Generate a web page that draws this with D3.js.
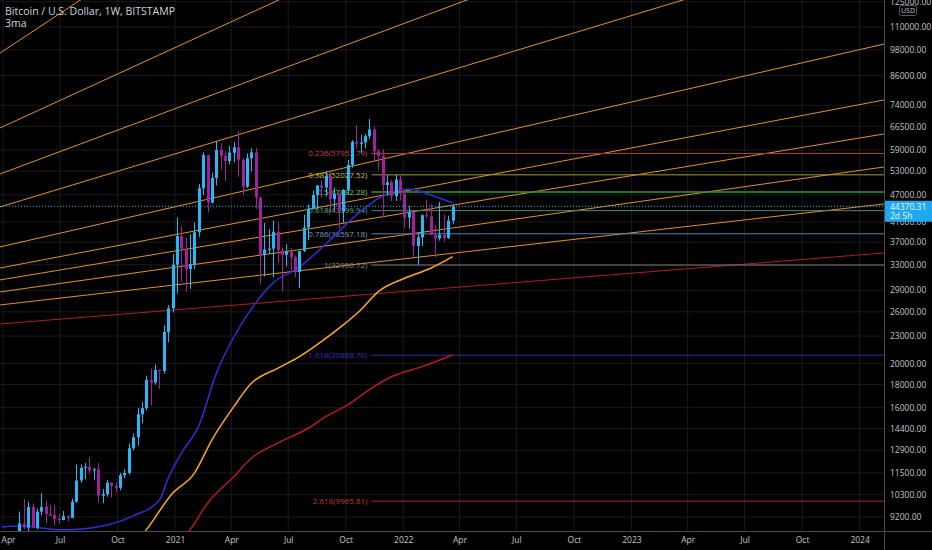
<!DOCTYPE html>
<html>
<head>
<meta charset="utf-8">
<script src="https://cdnjs.cloudflare.com/ajax/libs/d3/7.8.5/d3.min.js"></script>
<style>
  html, body { margin: 0; padding: 0; background: #000; }
  svg { display: block; font-family: "Open Sans", "Noto Sans", sans-serif; }
</style>
</head>
<body>
<div id="chart"></div>
<script>
// Weekly BTC/USD candles (week starting Monday), Bitstamp
const firstWeek = new Date(2020, 2, 30);
const lastWeek = new Date(2022, 2, 21);

const opens = [5880,6780,6900,7120,7700,8900,8720,9680,8720,9450,9680,9340,9290,9110,9060,9240,9160,9940,11070,11800,
  11860,11650,11700,10250,10330,10940,10770,10670,11370,11500,13030,13780,15480,15960,18400,18180,19360,19270,23480,26480,
  33000,38150,35800,32300,33100,38900,48600,57500,45200,51200,59000,57300,55800,58200,59800,56150,49000,56600,58300,46400,
  34700,35650,35800,39000,35500,34700,35300,34250,31800,35400,39850,43800,47000,49300,48800,51800,46000,47250,43200,48200,
  54700,61500,60900,61300,63300,65500,58600,57300,49400,50100,46700,50800,47300,41900,43100,36300,37900,42400,42200,38350,
  37700,38400,37800,41260];
const highs = [7280,7470,7290,7740,9460,10070,9940,9860,9600,10380,9990,9770,9780,9330,9480,9300,10100,12000,12000,12080,
  12480,11800,12090,10600,11100,10980,10960,11500,11720,13350,14050,15980,16480,18800,19500,19900,19420,24300,26900,34800,
  41900,40100,37800,38500,40900,49700,58300,57600,52600,61800,61000,58600,60200,61400,64900,56600,58000,59500,59600,46600,
  40800,39500,41300,41000,36000,36600,35900,34600,35000,42500,44800,48100,49400,50500,52900,52800,48800,47400,48400,56100,
  62000,67000,63700,64000,69000,66300,59300,59200,51900,50700,52000,52100,47600,44400,43500,38900,42600,45800,44800,40300,
  45400,42600,42300,44800];
const lows = [5860,6750,6470,6810,7650,8650,8200,8820,8640,9280,8900,9220,8830,8900,9050,9000,9140,9880,10950,11150,
  11450,11100,9900,9870,10200,10150,10400,10530,11200,11400,12900,13200,14800,15800,16200,18000,17600,19000,22300,25900,
  28500,30300,28800,29200,32300,38000,47000,43000,45000,49300,53400,50400,54800,55500,51500,47000,48700,53000,43800,30000,
  31100,34900,31000,33300,28800,32700,32100,31000,29300,35200,37400,43700,43900,46300,46600,43000,43500,39600,40800,47100,
  53900,59500,58000,59500,62300,55600,53300,42000,46800,45500,45600,45700,39700,39600,34000,32950,36300,41700,39500,34300,
  37300,37100,37600,40500];
const closes = [6780,6900,7120,7700,8900,8720,9680,8720,9450,9680,9340,9290,9110,9060,9240,9160,9940,11070,11800,11860,
  11650,11700,10250,10330,10940,10770,10670,11370,11500,13030,13780,15480,15960,18400,18180,19360,19270,23480,26480,33000,
  38150,35800,32300,33100,38900,48600,57500,45200,51200,59000,57300,55800,58200,59800,56150,49000,56600,58300,46400,34700,
  35650,35800,39000,35500,34700,35300,34250,31800,35400,39850,43800,47000,49300,48800,51800,46000,47250,43200,48200,54700,
  61500,60900,61300,63300,65500,58600,57300,49400,50100,46700,50800,47300,41900,43100,36300,37900,42400,42200,38350,37700,
  38400,37800,41260,44370.31];

// 3ma indicator, values
const ma50Dates = ["2020-03-30","2020-04-27","2020-07-06","2020-09-07","2020-10-26","2020-12-07","2020-12-21","2021-01-11",
  "2021-02-08","2021-03-08","2021-04-05","2021-05-10","2021-06-07","2021-07-19","2021-09-06","2021-10-18","2021-11-29",
  "2022-01-10","2022-02-14","2022-03-21"];
const ma50Values = [8745,8790,8620,8790,9250,10030,11200,12700,14600,19040,22890,27200,30100,32630,37410,42460,46750,
  48430,46990,45120];
const ma100Dates = ["2020-11-02","2020-11-16","2020-12-28","2021-02-01","2021-03-01","2021-04-05","2021-05-03","2021-06-14",
  "2021-07-19","2021-08-23","2021-09-27","2021-10-25","2021-11-22","2022-01-03","2022-02-14","2022-03-21"];
const ma100Values = [8150,8620,10370,11490,13600,16090,18100,19530,20720,22350,24330,26250,28800,30820,32420,34370];
const ma200Dates = ["2021-01-11","2021-01-25","2021-02-22","2021-04-05","2021-05-03","2021-06-14","2021-08-02","2021-08-30",
  "2021-10-04","2021-11-15","2021-12-13","2022-01-31","2022-03-21"];
const ma200Values = [8200,8620,9865,11280,12390,13370,14420,15290,16230,17800,18720,19700,20900];

// Fib retracement (log), anchored at the Nov 2021 top
const fibStart = "2021-11-08";
const fibRatios = [0.236, 0.382, 0.5, 0.618, 0.786, 1, 1.618, 2.618];
const fibPrices = [57953.79, 52027.52, 47682.28, 43399.94, 38597.18, 32950.72, 20868.76, 9965.81];

// Fan of trend lines: price at the left and right edges of the view
const lineStart = "2020-03-27";
const lineEnd = "2024-02-09";
const fanFrom = [96400, 65970, 52260, 44220, 36110, 32460, 30560, 28750, 26920];
const fanTo = [1846000, 514800, 277000, 171700, 100900, 76010, 63990, 54140, 44890];
const redFrom = 24450;
const redTo = 35030;

// Axes
const timeTicks = ["2020-04-01","2020-07-01","2020-10-01","2021-01-01","2021-04-01","2021-07-01","2021-10-01",
  "2022-01-01","2022-04-01","2022-07-01","2022-10-01","2023-01-01","2023-04-01","2023-07-01","2023-10-01","2024-01-01"];
const priceTicks = [125000,110000,98000,86000,74000,66500,59000,53000,47000,41000,37000,33000,29000,26000,23000,
  20000,18000,16000,14400,12900,11500,10300,9200];
const lastPrice = 44370.31;
const countdown = "2d 5h";

// ---- drawing ----
const W = 932, H = 550;
const plotW = 884, plotH = 531;
const font = "'Open Sans', 'Noto Sans', sans-serif";
const parse = d3.timeParse("%Y-%m-%d");

const weeks = d3.timeMonday.range(firstWeek, d3.timeDay.offset(lastWeek, 1));
const candles = weeks.map((d, i) => ({ date: d, o: opens[i], h: highs[i], l: lows[i], c: closes[i] }));

const x = d3.scaleTime()
  .domain([parse(lineStart), parse(lineEnd)])
  .range([0, plotW]);
const y = d3.scaleLog()
  .domain([8570, 126100])
  .range([plotH, 0]);

const svg = d3.select("#chart").append("svg")
  .attr("width", W)
  .attr("height", H);

svg.append("rect").attr("width", W).attr("height", H).attr("fill", "#000");

svg.append("defs").append("clipPath").attr("id", "plot")
  .append("rect").attr("width", plotW).attr("height", plotH);

const plot = svg.append("g").attr("clip-path", "url(#plot)");

// grid
plot.append("g").selectAll("line").data(timeTicks).join("line")
  .attr("x1", d => x(parse(d))).attr("x2", d => x(parse(d)))
  .attr("y1", 0).attr("y2", plotH)
  .attr("stroke", "#1b1b1b");
plot.append("g").selectAll("line").data(priceTicks).join("line")
  .attr("x1", 0).attr("x2", plotW)
  .attr("y1", d => y(d)).attr("y2", d => y(d))
  .attr("stroke", "#1b1b1b");

// fan lines
plot.append("g").selectAll("line").data(fanFrom).join("line")
  .attr("x1", x(parse(lineStart))).attr("x2", x(parse(lineEnd)))
  .attr("y1", d => y(d)).attr("y2", (d, i) => y(fanTo[i]))
  .attr("stroke", "#e0912e")
  .attr("stroke-width", 1);

plot.append("line")
  .attr("x1", x(parse(lineStart))).attr("x2", x(parse(lineEnd)))
  .attr("y1", y(redFrom)).attr("y2", y(redTo))
  .attr("stroke", "#b01e22")
  .attr("stroke-width", 1);

// fib levels
const fibLine = ["#b8343a", "#9f9f36", "#2e9a2e", "#4e8c66", "#4b87b8", "#7a7a7a", "#2a2aa6", "#a82828"];
const fibText = ["#c8444a", "#c4c44a", "#7fca4e", "#5fae78", "#6f9fc8", "#8a8a8a", "#3535b8", "#c03a3a"];
const fibX = x(parse(fibStart));
const fib = plot.append("g");
fib.selectAll("line").data(fibPrices).join("line")
  .attr("x1", fibX + 2).attr("x2", plotW)
  .attr("y1", d => y(d)).attr("y2", d => y(d))
  .attr("stroke", (d, i) => fibLine[i])
  .attr("stroke-width", (d, i) => fibRatios[i] === 0.5 ? 1.5 : 1);
fib.selectAll("text").data(fibPrices).join("text")
  .attr("x", fibX - 2)
  .attr("y", d => y(d))
  .attr("dy", "0.35em")
  .attr("text-anchor", "end")
  .attr("font-size", 8)
  .attr("fill", (d, i) => fibText[i])
  .text((d, i) => `${fibRatios[i]}(${d.toFixed(2)})`);

// moving averages
const maLine = d3.line()
  .x(d => x(d[0]))
  .y(d => y(d[1]))
  .curve(d3.curveMonotoneX);
const mas = [
  { dates: ma200Dates, values: ma200Values, color: "#b71c1c" },
  { dates: ma100Dates, values: ma100Values, color: "#ffa726" },
  { dates: ma50Dates, values: ma50Values, color: "#2f2fd8" }
];
mas.forEach(m => {
  plot.append("path")
    .datum(m.dates.map((d, i) => [parse(d), m.values[i]]))
    .attr("fill", "none")
    .attr("stroke", m.color)
    .attr("stroke-width", 1.5)
    .attr("d", maLine);
});

// candles
const upColor = "#29b6f6", downColor = "#a0229a";
const bodyW = 3;
const cg = plot.append("g").selectAll("g").data(candles).join("g");
cg.append("line")
  .attr("x1", d => Math.round(x(d.date)) + 0.5).attr("x2", d => Math.round(x(d.date)) + 0.5)
  .attr("y1", d => y(d.h)).attr("y2", d => y(d.l))
  .attr("stroke", d => d.c >= d.o ? upColor : downColor);
cg.append("rect")
  .attr("x", d => Math.round(x(d.date)) + 0.5 - bodyW / 2)
  .attr("width", bodyW)
  .attr("y", d => y(Math.max(d.o, d.c)))
  .attr("height", d => Math.max(1, y(Math.min(d.o, d.c)) - y(Math.max(d.o, d.c))))
  .attr("fill", d => d.c >= d.o ? upColor : downColor);

// last price line
plot.append("line")
  .attr("x1", 0).attr("x2", plotW)
  .attr("y1", y(lastPrice)).attr("y2", y(lastPrice))
  .attr("stroke", "#29b6f6")
  .attr("stroke-dasharray", "1,2");

// axes
const xAxis = svg.append("g")
  .attr("transform", `translate(0,${plotH})`)
  .call(d3.axisBottom(x)
    .tickValues(timeTicks.map(parse))
    .tickFormat(d => d.getMonth() === 0 ? d3.timeFormat("%Y")(d) : d3.timeFormat("%b")(d))
    .tickSize(0)
    .tickPadding(6));
xAxis.attr("font-family", font);
xAxis.select(".domain").attr("stroke", "#4a4a4a").attr("d", `M0,0.5H${W}`);
xAxis.selectAll("text").attr("fill", "#c3c6cc").attr("font-size", 8.5);
// keep the first label inside the view, as the chart does
xAxis.selectAll(".tick text").filter((d, i) => i === 0).attr("text-anchor", "start").attr("x", -x(d3.min(timeTicks.map(parse))) + 1);

const yAxis = svg.append("g")
  .attr("transform", `translate(${plotW},0)`)
  .call(d3.axisRight(y)
    .tickValues(priceTicks)
    .tickFormat(d => d.toFixed(2))
    .tickSize(0)
    .tickPadding(6));
yAxis.attr("font-family", font);
yAxis.select(".domain").attr("stroke", "#4a4a4a").attr("d", `M0.5,0V${H}`);
yAxis.selectAll("text").attr("fill", "#c3c6cc").attr("font-size", 8.5);

// currency tag
svg.append("rect")
  .attr("x", 899.5).attr("y", 5.5).attr("width", 17).attr("height", 10).attr("rx", 2)
  .attr("fill", "#000").attr("stroke", "#5a5a5a");
svg.append("text")
  .attr("x", 908).attr("y", 13).attr("text-anchor", "middle")
  .attr("font-size", 7).attr("fill", "#c3c6cc").text("USD");

// last price tag
const ly = y(lastPrice);
svg.append("rect")
  .attr("x", plotW + 1).attr("y", ly - 5.5).attr("width", W - plotW - 1).attr("height", 21)
  .attr("fill", "#1fa8f0");
svg.append("text")
  .attr("x", 890).attr("y", ly + 3.5)
  .attr("font-size", 8.5).attr("fill", "#e8f5ff").text(lastPrice.toFixed(2));
svg.append("text")
  .attr("x", 890).attr("y", ly + 13)
  .attr("font-size", 8.5).attr("fill", "#e8f5ff").text(countdown);

// legend
svg.append("text")
  .attr("x", 5).attr("y", 14.5)
  .attr("font-size", 10.5).attr("fill", "#d1d4dc")
  .text("Bitcoin / U.S. Dollar, 1W, BITSTAMP");
svg.append("text")
  .attr("x", 5).attr("y", 27)
  .attr("font-size", 10.5).attr("fill", "#d1d4dc")
  .text("3ma");
</script>
</body>
</html>
